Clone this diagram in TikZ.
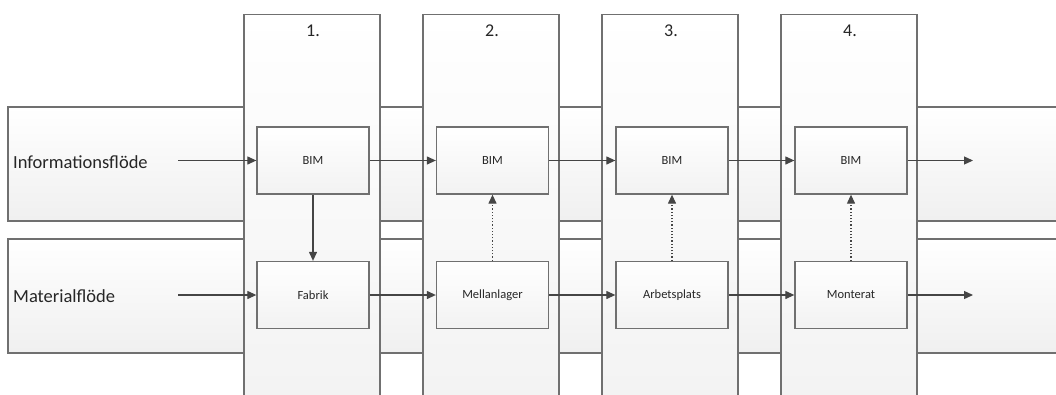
\documentclass[tikz,border=0pt]{standalone}
\usepackage{fontspec}
\setmainfont{Carlito}
\usetikzlibrary{arrows.meta}
\definecolor{edge}{HTML}{707070}
\definecolor{ink}{HTML}{262626}
\definecolor{wire}{HTML}{454545}
\tikzset{
  band/.style={draw=edge, line width=1.3pt, top color=white, bottom color=black!6},
  stage/.style={draw=edge, line width=1.3pt, top color=white, bottom color=black!5,
    minimum width=136pt, minimum height=400pt, inner sep=0pt, anchor=north},
  stagenum/.style={font=\fontsize{18}{20}\selectfont, text=ink, inner sep=0pt},
  flowlabel/.style={font=\fontsize{18.5}{22}\selectfont, text=ink, inner sep=0pt, anchor=west},
  box/.style={draw=edge, line width=1.3pt, top color=white, bottom color=black!5,
    minimum width=112pt, minimum height=67pt, inner sep=0pt,
    font=\fontsize{12.5}{14}\selectfont, text=ink},
  flow/.style={draw=wire, line width=1.2pt, -{Triangle[length=9pt,width=8pt]}},
  feedback/.style={flow, dotted},
}
\begin{document}
\begin{tikzpicture}[x=1pt, y=-1pt]
  \useasboundingbox (0,0) rectangle (1056,394);
  \clip (0,0) rectangle (1056,394);
  \fill[white] (0,0) rectangle (1056,394);

  % horizontal flow bands
  \path[band] (8,107) rectangle (1070,221);
  \path[band] (8,239) rectangle (1070,353);

  % stage columns
  \foreach \c/\n [count=\i] in {312/1., 491/2., 670/3., 849/4.} {
    \node[stage] (s\i) at (\c,14) {};
    \node[stagenum] (n\i) at (\c+1,31) {\n};
  }

  % row labels
  \node[flowlabel] (linfo) at (13,162) {Informationsflöde};
  \node[flowlabel] (lmat) at (13,296) {Materialflöde};

  % process boxes
  \node[box] (b1) at (313,160.5) {BIM};
  \node[box] (b2) at (492.5,160.5) {BIM};
  \node[box] (b3) at (672,160.5) {BIM};
  \node[box] (b4) at (851,160.5) {BIM};
  \node[box] (f1) at (313,295) {Fabrik};
  \node[box] (f2) at (492.5,295) {Mellanlager};
  \node[box] (f3) at (672,295) {Arbetsplats};
  \node[box] (f4) at (851,295) {Monterat};

  % loose ends of the flows
  \coordinate (ininfo) at (178,160.5);
  \coordinate (inmat) at (178,295);
  \coordinate (outinfo) at (973,160.5);
  \coordinate (outmat) at (973,295);

  % information flow
  \draw[flow] (ininfo) -- (b1);
  \draw[flow] (b1) -- (b2);
  \draw[flow] (b2) -- (b3);
  \draw[flow] (b3) -- (b4);
  \draw[flow] (b4) -- (outinfo);

  % material flow
  \draw[flow] (inmat) -- (f1);
  \draw[flow] (f1) -- (f2);
  \draw[flow] (f2) -- (f3);
  \draw[flow] (f3) -- (f4);
  \draw[flow] (f4) -- (outmat);

  % links between the two flows
  \draw[flow] (b1) -- (f1);
  \draw[feedback] (f2) -- (b2);
  \draw[feedback] (f3) -- (b3);
  \draw[feedback] (f4) -- (b4);
\end{tikzpicture}
\end{document}
